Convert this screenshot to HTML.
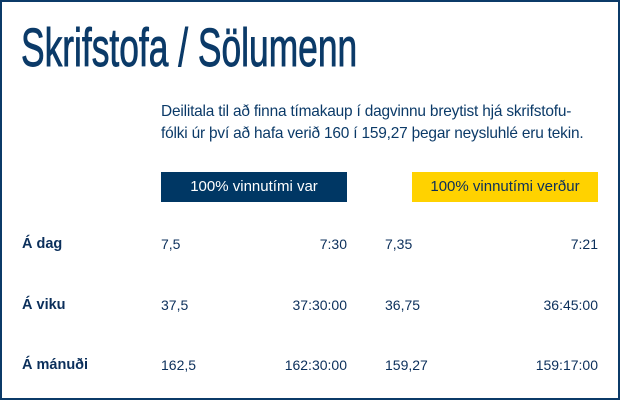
<!DOCTYPE html>
<html><head><meta charset="utf-8"><style>
body{margin:0;width:620px;height:400px;overflow:hidden;background:#fff;font-family:"Liberation Sans",sans-serif;color:#0b2f5b}
.frame{position:absolute;left:0;top:0;width:616px;height:396px;border:2px solid #0b3a68}
.t{position:absolute;white-space:nowrap}
.title{left:21px;top:17px;font-size:54px;-webkit-text-stroke:0.9px #0b3a68;transform:scaleX(0.655);transform-origin:left top;color:#0b3a68}
.p{left:161px;top:101px;font-size:16px;line-height:22px;color:#0b3a68;letter-spacing:-0.2px;transform:scaleX(0.965);transform-origin:left top}
.box{position:absolute;top:172px;height:30px;width:186px;font-size:15px;line-height:30px;text-align:center}
.b1{left:161px;background:#003764;color:#fff}
.b2{left:412px;background:#ffd200;color:#0b2f5b}
.lab{left:22px;font-weight:bold;font-size:14.5px}
.v{font-size:14px}
.r{text-align:right}
</style></head><body>
<div class="frame"></div>
<div class="t title">Skrifstofa / Sölumenn</div>
<div class="t p">Deilitala til að finna tímakaup í dagvinnu breytist hjá skrifstofu-<br>fólki úr því að hafa verið 160 í 159,27 þegar neysluhlé eru tekin.</div>
<div class="box b1">100% vinnutími var</div>
<div class="box b2">100% vinnutími verður</div>

<div class="t lab" style="top:236px">Á dag</div>
<div class="t v" style="top:236px;left:161px">7,5</div>
<div class="t v r" style="top:236px;right:273px">7:30</div>
<div class="t v" style="top:236px;left:385px">7,35</div>
<div class="t v r" style="top:236px;right:22px">7:21</div>

<div class="t lab" style="top:297px">Á viku</div>
<div class="t v" style="top:297px;left:161px">37,5</div>
<div class="t v r" style="top:297px;right:273px">37:30:00</div>
<div class="t v" style="top:297px;left:385px">36,75</div>
<div class="t v r" style="top:297px;right:22px">36:45:00</div>

<div class="t lab" style="top:357px">Á mánuði</div>
<div class="t v" style="top:357px;left:161px">162,5</div>
<div class="t v r" style="top:357px;right:273px">162:30:00</div>
<div class="t v" style="top:357px;left:385px">159,27</div>
<div class="t v r" style="top:357px;right:22px">159:17:00</div>
</body></html>
